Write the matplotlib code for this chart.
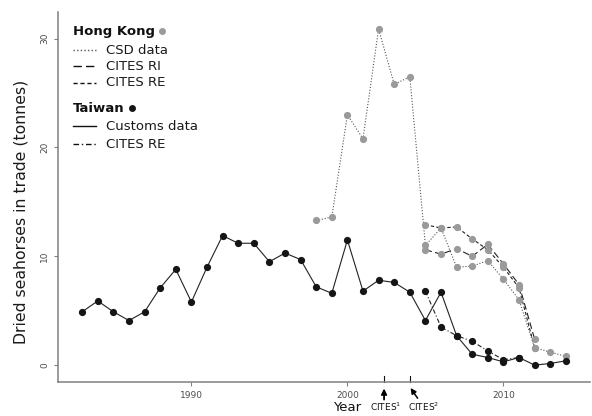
import numpy as np
import matplotlib
matplotlib.use('Agg')
import matplotlib.pyplot as plt
from matplotlib.lines import Line2D

# Taiwan customs data (tonnes), 1983-2014
tw_years = np.arange(1983, 2015)
tw_customs = [4.9, 5.9, 4.9, 4.1, 4.9, 7.1, 8.8, 5.8, 9.0, 11.9, 11.2, 11.2, 9.5, 10.3, 9.7, 7.2,
              6.6, 11.5, 6.8, 7.8, 7.6, 6.7, 4.1, 6.7, 2.7, 1.0, 0.7, 0.3, 0.7, 0.0, 0.15, 0.4]

# Taiwan CITES reported exports, 2005-2011
tw_re_years = np.arange(2005, 2012)
tw_re = [6.8, 3.5, 2.7, 2.2, 1.3, 0.5, 0.7]

# Hong Kong CSD data, 1998-2014
hk_csd_years = np.arange(1998, 2015)
hk_csd = [13.3, 13.6, 23.0, 20.8, 30.9, 25.8, 26.5, 11.0, 12.6, 9.0, 9.1, 9.6, 7.9, 6.0, 1.6, 1.2, 0.8]

# Hong Kong CITES reported imports / exports, 2005-2012
hk_cites_years = np.arange(2005, 2013)
hk_ri = [10.6, 10.2, 10.7, 10.0, 11.1, 9.3, 7.4, 2.4]
hk_re = [12.9, 12.6, 12.7, 11.6, 10.6, 9.0, 7.1, 1.6]

cites_dates = [2002.35, 2004.0]
cites_labels = ['CITES$^1$', 'CITES$^2$']

W, H = 592, 416
GREY_PT = '#9a9a9a'
BLACK_PT = '#151515'
AX_COL = '#808080'


def fx(px):
    return px / W


def fy(py):
    return 1 - py / H


fig = plt.figure(figsize=(W / 100, H / 100), dpi=100, facecolor='white')
ax = fig.add_axes([fx(58), fy(382), fx(590) - fx(58), fy(12) - fy(382)])

ms = 5.2
lw = 0.8
# Hong Kong
ax.plot(hk_csd_years, hk_csd, linestyle=(0, (1, 1.6)), color='#555555', lw=lw)
ax.plot(hk_cites_years, hk_ri, linestyle=(0, (6, 3)), color='#222222', lw=lw)
ax.plot(hk_cites_years, hk_re, linestyle=(0, (3, 2)), color='#222222', lw=lw)
# Taiwan
ax.plot(tw_years, tw_customs, '-', color='#222222', lw=lw)
ax.plot(tw_re_years, tw_re, linestyle=(0, (4, 2, 1, 2)), color='#222222', lw=lw)

for xs, ys in [(hk_csd_years, hk_csd), (hk_cites_years, hk_ri), (hk_cites_years, hk_re)]:
    ax.plot(xs, ys, 'o', color=GREY_PT, ms=ms, mew=0)
for xs, ys in [(tw_years, tw_customs), (tw_re_years, tw_re)]:
    ax.plot(xs, ys, 'o', color=BLACK_PT, ms=ms, mew=0)

ax.set_xlim(1981.45, 2015.55)
ax.set_ylim(-1.55, 32.45)
ax.set_xticks([1990, 2000, 2010])
ax.set_yticks([0, 10, 20, 30])
for s in ['top', 'right']:
    ax.spines[s].set_visible(False)
for s in ['left', 'bottom']:
    ax.spines[s].set_color(AX_COL)
    ax.spines[s].set_linewidth(1.1)
ax.tick_params(colors=AX_COL, labelcolor='#4d4d4d', labelsize=6.5, length=3, width=0.8)
plt.setp(ax.get_yticklabels(), rotation=90, va='center')

ax.set_ylabel('Dried seahorses in trade (tonnes)', fontsize=11.3, color='#1a1a1a')
ax.yaxis.set_label_coords(-0.056, 0.46)

# CITES markers below the axis
xt = ax.get_xaxis_transform()
for x in cites_dates:
    ax.plot([x, x], [0, 0.016], transform=xt, color='#111111', lw=0.8, clip_on=False)
ax.annotate('', xy=(cites_dates[0], -0.01), xytext=(cites_dates[0], -0.055), xycoords=xt,
            arrowprops=dict(arrowstyle='-|>', color='black', lw=1.3, mutation_scale=8))
ax.annotate('', xy=(cites_dates[1] - 0.05, -0.01), xytext=(cites_dates[1] + 0.6, -0.05),
            xycoords=xt,
            arrowprops=dict(arrowstyle='-|>', color='black', lw=1.1, mutation_scale=8))
ax.text(cites_dates[0] + 0.1, -0.068, cites_labels[0], transform=xt,
        ha='center', va='center', fontsize=6.5, color='#111111')
ax.text(cites_dates[1] + 0.9, -0.068, cites_labels[1], transform=xt,
        ha='center', va='center', fontsize=6.5, color='#111111')
ax.text(2000, -0.07, 'Year', transform=xt, ha='center', va='center',
        fontsize=9.5, color='#111111')

# legend drawn by hand
fig.text(fx(73), fy(31), 'Hong Kong', fontsize=9.5, fontweight='bold', va='center', color='#111111')
fig.add_artist(Line2D([fx(162)], [fy(31)], marker='o', color=GREY_PT, ms=5, mew=0))
fig.text(fx(73), fy(108), 'Taiwan', fontsize=9.5, fontweight='bold', va='center', color='#111111')
fig.add_artist(Line2D([fx(132)], [fy(108)], marker='o', color=BLACK_PT, ms=5, mew=0))

entries = [
    ('CSD data', 50, (0, (1, 1.6)), '#555555'),
    ('CITES RI', 66, (0, (6, 3)), '#111111'),
    ('CITES RE', 83, (0, (3, 2)), '#111111'),
    ('Customs data', 126, '-', '#111111'),
    ('CITES RE', 144, (0, (4, 2, 1, 2)), '#111111'),
]
for lab, py, ls, col in entries:
    fig.add_artist(Line2D([fx(73), fx(96)], [fy(py), fy(py)], linestyle=ls, color=col, lw=1.0))
    fig.text(fx(106), fy(py), lab, fontsize=9.5, va='center', color='#1a1a1a')

fig.savefig('out.png', dpi=100)
